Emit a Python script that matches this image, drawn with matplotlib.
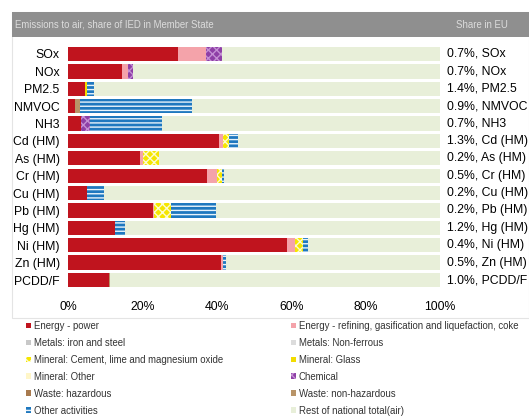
import numpy as np
import matplotlib
matplotlib.use('Agg')
import matplotlib.pyplot as plt
from matplotlib.patches import Patch, Rectangle

plt.rcParams['font.family'] = ['Liberation Sans', 'DejaVu Sans']
plt.rcParams['hatch.linewidth'] = 1.0

pollutants = ['SOx', 'NOx', 'PM2.5', 'NMVOC', 'NH3', 'Cd (HM)', 'As (HM)', 'Cr (HM)',
              'Cu (HM)', 'Pb (HM)', 'Hg (HM)', 'Ni (HM)', 'Zn (HM)', 'PCDD/F']
eu_share = ['0.7%', '0.7%', '1.4%', '0.9%', '0.7%', '1.3%', '0.2%', '0.5%',
            '0.2%', '0.2%', '1.2%', '0.4%', '0.5%', '1.0%']

# share of national total per sector (%)
power = [29.6, 14.4, 4.7, 1.8, 3.4, 40.7, 19.4, 37.3, 5.0, 22.8, 12.5, 59.0, 41.0, 11.1]
refining = [7.4, 1.6, 0, 0, 0, 0.9, 0.7, 2.7, 0, 0.4, 0, 2.0, 0.7, 0]
iron_steel = [0, 0, 0, 0, 0, 0, 0, 0, 0, 0, 0, 0, 0, 0]
non_ferrous = [0, 0, 0, 0, 0, 0, 0, 0, 0, 0, 0, 0, 0, 0]
cement = [0, 0, 0, 0, 0, 1.7, 4.4, 1.3, 0, 4.5, 0, 2.1, 0, 0]
glass = [0, 0, 0.5, 0, 0, 0, 0, 0, 0, 0, 0, 0, 0, 0]
mineral_other = [0, 0, 0, 0, 0, 0, 0, 0, 0, 0, 0, 0, 0, 0]
chemical = [4.5, 1.6, 0, 0, 2.5, 0, 0, 0, 0, 0, 0, 0, 0, 0]
waste_haz = [0, 0, 0, 0, 0, 0, 0, 0, 0, 0, 0, 0, 0, 0]
waste_nonhaz = [0, 0, 0, 1.4, 0, 0, 0, 0, 0, 0, 0, 0, 0, 0.3]
other = [0, 0, 1.9, 30.0, 19.3, 2.5, 0, 0.6, 4.8, 12.0, 2.8, 1.5, 0.9, 0]

sectors = [
    ('Energy - power', power, '#c0141e', None, None),
    ('Energy - refining, gasification and liquefaction, coke', refining, '#f4a3aa', None, None),
    ('Metals: iron and steel', iron_steel, '#c8c8c8', None, None),
    ('Metals: Non-ferrous', non_ferrous, '#dcdcdc', None, None),
    ('Mineral: Cement, lime and magnesium oxide', cement, '#f5e600', 'xxxx', '#fdfbd0'),
    ('Mineral: Glass', glass, '#f2dc00', None, None),
    ('Mineral: Other', mineral_other, '#fff6c8', None, None),
    ('Chemical', chemical, '#8e3fa6', 'xxxx', '#c48fd4'),
    ('Waste: hazardous', waste_haz, '#a87a4e', None, None),
    ('Waste: non-hazardous', waste_nonhaz, '#b89468', None, None),
    ('Other activities', other, '#1f78bf', '----', '#e8f3fb'),
]
rest = 100 - np.sum([s[1] for s in sectors], axis=0)
sectors.append(('Rest of national total(air)', list(rest), '#e8efd9', None, None))

fig = plt.figure(figsize=(5.29, 4.18), dpi=100)
W, H = 529, 418

# frame and header
fig.patches.append(Rectangle((12 / W, 1 - 318 / H), 517 / W, 306 / H, transform=fig.transFigure,
                             facecolor='none', edgecolor='#e4e4e4', lw=0.8, zorder=0))
fig.patches.append(Rectangle((12 / W, 1 - 37 / H), 517 / W, 25 / H, transform=fig.transFigure,
                             facecolor='#8f8f8f', edgecolor='none', zorder=1))
fig.text(15 / W, 1 - 24.5 / H, 'Emissions to air, share of IED in Member State', color='#dcdcdc',
         fontsize=6.9, va='center', ha='left')
fig.text(456 / W, 1 - 24.5 / H, 'Share in EU', color='#dcdcdc', fontsize=6.9, va='center', ha='left')

ax = fig.add_axes([68 / W, 1 - 288.7 / H, 372 / W, 243.4 / H])
y = np.arange(len(pollutants))
left = np.zeros(len(pollutants))
for name, vals, col, hatch, hcol in sectors:
    vals = np.array(vals, dtype=float)
    ax.barh(y, vals, left=left, height=0.82, color=col, hatch=hatch,
            edgecolor=hcol if hcol else col, linewidth=0)
    left += vals

ax.set_xlim(0, 100)
ax.set_ylim(len(pollutants) - 0.5, -0.5)
ax.set_yticks(y)
ax.set_yticklabels(pollutants, fontsize=8.8)
ax.set_xticks([0, 20, 40, 60, 80, 100])
ax.set_xticklabels(['0%', '20%', '40%', '60%', '80%', '100%'], fontsize=8.8)
ax.tick_params(length=0, pad=6)
ax.tick_params(axis='x', pad=9)
for s in ax.spines.values():
    s.set_visible(False)

for i, (sh, p) in enumerate(zip(eu_share, pollutants)):
    ax.text(101.9, i, f'{sh}, {p}', fontsize=8.8, va='center', ha='left', clip_on=False)

# legend in two columns
handles = [Patch(facecolor=col, hatch=hatch, edgecolor=hcol if hcol else col, linewidth=0)
           for _, _, col, hatch, hcol in sectors]
names = [s[0] for s in sectors]
left_idx = [0, 2, 4, 6, 8, 10]
right_idx = [1, 3, 5, 7, 9, 11]
for idx, xpos in ((left_idx, 26 / W), (right_idx, 291 / W)):
    fig.legend([handles[i] for i in idx], [names[i] for i in idx], loc='upper left',
               bbox_to_anchor=(xpos, 1 - 321 / H), frameon=False, fontsize=6.9,
               handlelength=0.55, handleheight=0.55, handletextpad=0.25,
               labelspacing=0.72, borderpad=0, borderaxespad=0, labelcolor='#333333')

fig.savefig('out.png', dpi=100)
